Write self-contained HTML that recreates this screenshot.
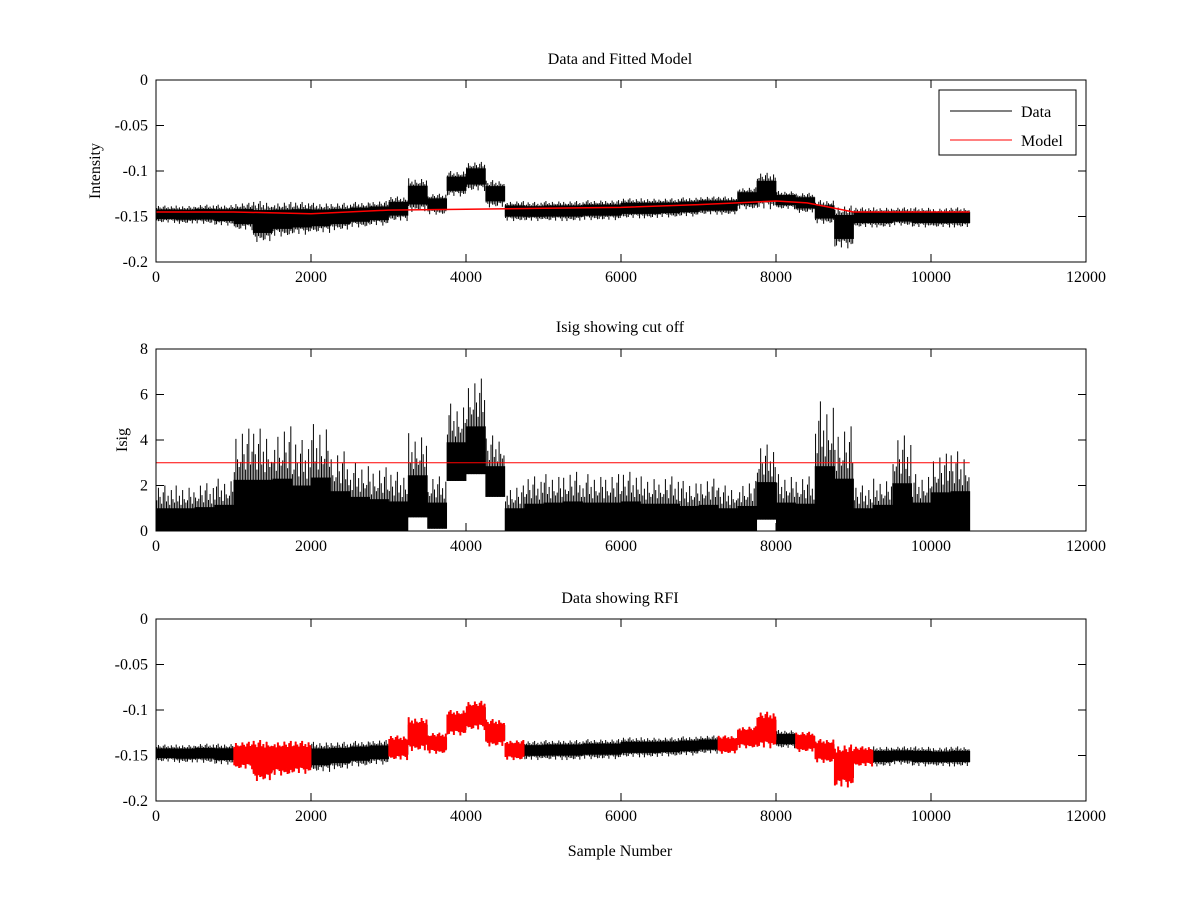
<!DOCTYPE html>
<html><head><meta charset="utf-8"><style>
body{margin:0;background:#fff}
svg{display:block;font-family:"Liberation Serif",serif;font-size:16px}
</style></head><body>
<svg id="fig" width="1200" height="900" xmlns="http://www.w3.org/2000/svg">
<rect width="1200" height="900" fill="#fff"/>
</svg>
<script>
// bin starts (samples), bin width 250
const binStarts = [0,250,500,750,1000,1250,1500,1750,2000,2250,2500,2750,3000,3250,3500,3750,4000,4250,4500,4750,5000,5250,5500,5750,6000,6250,6500,6750,7000,7250,7500,7750,8000,8250,8500,8750,9000,9250,9500,9750,10000,10250];
const dataLo = [-0.157,-0.158,-0.158,-0.16,-0.165,-0.178,-0.172,-0.17,-0.168,-0.165,-0.162,-0.16,-0.155,-0.145,-0.148,-0.128,-0.122,-0.14,-0.155,-0.155,-0.155,-0.155,-0.154,-0.154,-0.152,-0.152,-0.151,-0.15,-0.148,-0.148,-0.142,-0.142,-0.142,-0.146,-0.158,-0.185,-0.162,-0.162,-0.16,-0.162,-0.162,-0.162];
const dataHi = [-0.138,-0.138,-0.137,-0.137,-0.135,-0.133,-0.134,-0.134,-0.135,-0.135,-0.134,-0.133,-0.128,-0.108,-0.125,-0.1,-0.09,-0.11,-0.133,-0.134,-0.133,-0.133,-0.132,-0.132,-0.13,-0.13,-0.13,-0.129,-0.128,-0.128,-0.118,-0.102,-0.122,-0.124,-0.132,-0.138,-0.14,-0.14,-0.14,-0.14,-0.141,-0.14];
const modelX = [0,1000,2000,3000,4000,5000,6000,7000,7500,8000,8400,8700,9000,10500];
const modelY = [-0.145,-0.145,-0.147,-0.143,-0.142,-0.141,-0.14,-0.137,-0.135,-0.133,-0.135,-0.14,-0.145,-0.145];
const isigLo = [0,0,0,0,0,0,0,0,0,0,0,0,0,0.6,0.1,2.2,2.5,1.5,0,0,0,0,0,0,0,0,0,0,0,0,0,0.5,0,0,0,0,0,0,0,0,0,0];
const isigHi = [2.0,2.0,2.1,2.3,4.5,4.5,4.6,4.0,4.7,3.5,3.0,2.8,2.6,4.3,2.4,5.6,6.7,4.2,2.0,2.4,2.5,2.6,2.5,2.5,2.6,2.4,2.4,2.2,2.3,2.0,2.2,3.8,2.5,2.4,5.7,4.6,2.0,2.3,4.2,2.5,3.4,3.5];
const rfiFlag = [0,0,0,0,1,1,1,1,0,0,0,0,1,1,1,1,1,1,1,0,0,0,0,0,0,0,0,0,0,1,1,1,0,1,1,1,1,0,0,0,0,0];
const cutoff = 3;
const xTicks = [0,2000,4000,6000,8000,10000,12000];
const yTicks1 = [0,-0.05,-0.1,-0.15,-0.2];
const yTicks2 = [0,2,4,6,8];
const yTickLabels1 = ["0","-0.05","-0.1","-0.15","-0.2"];

const svg=document.getElementById('fig');
const NS='http://www.w3.org/2000/svg';
function mk(tag,attrs,parent){const e=document.createElementNS(NS,tag);for(const k in attrs)e.setAttribute(k,attrs[k]);(parent||svg).appendChild(e);return e;}
const L=156,R=1086,BW=250;
const sx=v=>L+(v/12000)*(R-L);
const spikePat=[0.35,0.9,0.5,0.2,0.7,1.0,0.3,0.55,0.15,0.8,0.4,0.25];
function axes(top,bot,ymin,ymax,name){
  const g=mk('g',{});
  
  
  g.sy=v=>bot-(v-ymin)/(ymax-ymin)*(bot-top);
  g.top=top;g.bot=bot;return g;
}
function frame(g,yt,ytl,sy){
  const top=g.top,bot=g.bot;
  mk('rect',{x:L,y:top,width:R-L,height:bot-top,fill:'none',stroke:'#000','stroke-width':1},g);
  xTicks.forEach(t=>{const x=sx(t);
    mk('line',{x1:x,x2:x,y1:bot,y2:bot-8,stroke:'#000'},g);
    mk('line',{x1:x,x2:x,y1:top,y2:top+8,stroke:'#000'},g);
    const tx=mk('text',{x:x,y:bot+20,'text-anchor':'middle'},g);tx.textContent=t;
    
    });
  yt.forEach((t,i)=>{const y=sy(t);
    mk('line',{x1:L,x2:L+8,y1:y,y2:y,stroke:'#000'},g);
    mk('line',{x1:R,x2:R-8,y1:y,y2:y,stroke:'#000'},g);
    const tx=mk('text',{x:L-8,y:y+5,'text-anchor':'end'},g);tx.textContent=ytl?ytl[i]:t;
    
    });
}
function noise(g,lo,hi,sy,color,flags,isig,sw){
  binStarts.forEach((b,i)=>{
    if(flags&&!flags[i])return;
    const x0=sx(b),x1=sx(b+BW);
    const range=hi[i]-lo[i];
    let cLo,cHi;
    if(isig){cLo=lo[i];cHi=lo[i]+range*0.5;}
    else{const m=(lo[i]+hi[i])/2;cLo=m-range*0.28;cHi=m+range*0.28;}
    const r=mk('rect',{x:x0,y:sy(cHi),width:x1-x0+0.4,height:Math.max(1,sy(cLo)-sy(cHi)),fill:color},g);
    
    
    const n=spikePat.length;
    for(let k=0;k<n;k++){const xx=x0+(x1-x0)*(k+0.5)/n;
      const f=spikePat[(k+i*5)%n], f2=spikePat[(k*7+i*3)%n];
      const top=cHi+(hi[i]-cHi)*f;
      const bot=isig?lo[i]:cLo-(cLo-lo[i])*f2;
      mk('line',{x1:xx,x2:xx,y1:sy(bot),y2:sy(top),stroke:color,'stroke-width':sw||1},g);}
  });
}
function title(txt,y,name){const t=mk('text',{x:620,y:y,'text-anchor':'middle'});t.textContent=txt;
  }

// Panel 1
const g1=axes(80,262,-0.2,0,'data-model-axes');
noise(g1,dataLo,dataHi,g1.sy,'#000');
mk('polyline',{points:modelX.map((x,i)=>sx(x)+','+g1.sy(modelY[i])).join(' '),fill:'none',stroke:'#f00','stroke-width':1.5},g1);
frame(g1,yTicks1,yTickLabels1,g1.sy);
title('Data and Fitted Model',64,'title-data-model');
const yl1=mk('text',{x:0,y:0,'text-anchor':'middle',transform:'translate(100,171) rotate(-90)'});yl1.textContent='Intensity';

const lg=mk('g',{});
mk('rect',{x:939,y:90,width:137,height:65,fill:'#fff',stroke:'#000'},lg);
mk('line',{x1:950,x2:1012,y1:111,y2:111,stroke:'#000'},lg);
mk('line',{x1:950,x2:1012,y1:140,y2:140,stroke:'#f00'},lg);
const t1=mk('text',{x:1021,y:117},lg);t1.textContent='Data';
const t2=mk('text',{x:1021,y:146},lg);t2.textContent='Model';

// Panel 2
const g2=axes(349,531,0,8,'isig-axes');
noise(g2,isigLo,isigHi,g2.sy,'#000',null,true);
mk('line',{x1:sx(0),x2:sx(10500),y1:g2.sy(cutoff),y2:g2.sy(cutoff),stroke:'#f00','stroke-width':1},g2);
frame(g2,yTicks2,null,g2.sy);
title('Isig showing cut off',332,'title-isig');
const yl2=mk('text',{x:0,y:0,'text-anchor':'middle',transform:'translate(127,440) rotate(-90)'});yl2.textContent='Isig';


// Panel 3
const g3=axes(619,801,-0.2,0,'rfi-axes');
noise(g3,dataLo,dataHi,g3.sy,'#000');
noise(g3,dataLo,dataHi,g3.sy,'#f00',rfiFlag,false,2);
frame(g3,yTicks1,yTickLabels1,g3.sy);
title('Data showing RFI',603,'title-rfi');
const xl=mk('text',{x:620,y:856,'text-anchor':'middle'});xl.textContent='Sample Number';

</script>
</body></html>
